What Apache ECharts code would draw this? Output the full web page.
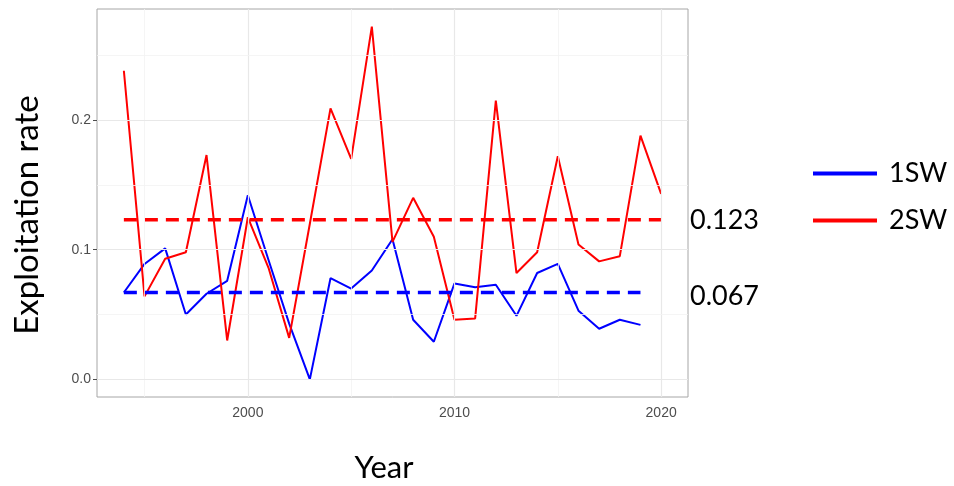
<!DOCTYPE html>
<html>
<head>
<meta charset="utf-8">
<script src="https://cdn.jsdelivr.net/npm/echarts@6/dist/echarts.min.js"></script>
<style>html,body{margin:0;padding:0;background:#fff;}#c{width:954px;height:486px;}</style>
</head>
<body>
<div id="c"></div>
<script>
// ---- data ----
const years1SW = [1994,1995,1996,1997,1998,1999,2000,2001,2002,2003,2004,2005,2006,2007,2008,2009,2010,2011,2012,2013,2014,2015,2016,2017,2018,2019];
const values1SW = [0.067,0.089,0.101,0.050,0.066,0.076,0.142,0.092,0.043,0.000,0.078,0.070,0.084,0.108,0.046,0.029,0.074,0.071,0.073,0.049,0.082,0.089,0.053,0.039,0.046,0.042];
const years2SW = [1994,1995,1996,1997,1998,1999,2000,2001,2002,2003,2004,2005,2006,2007,2008,2009,2010,2011,2012,2013,2014,2015,2016,2017,2018,2019,2020];
const values2SW = [0.238,0.064,0.093,0.098,0.173,0.030,0.125,0.086,0.032,0.120,0.209,0.170,0.272,0.106,0.140,0.110,0.046,0.047,0.215,0.082,0.098,0.172,0.104,0.091,0.095,0.188,0.143];
const mean1SW = 0.067;
const mean2SW = 0.123;
const xTicks = [2000, 2010, 2020];
const xMinorTicks = [1995, 2005, 2015];
const yTicks = [0.0, 0.1, 0.2];
const yMinorTicks = [0.05, 0.15, 0.25];
const xRange = [1992.7, 2021.3];
const yRange = [-0.0136, 0.2856];

const zip = (xs, ys) => xs.map((x, i) => [x, ys[i]]);

const chart = echarts.init(document.getElementById('c'));
const tickFont = { fontFamily: 'Liberation Sans, Arial, sans-serif', fontSize: 14, color: '#4d4d4d' };
const bigFont = 'Lato, "Open Sans", sans-serif';

const gridLines = [];
xTicks.forEach(v => gridLines.push({ xAxis: v, lineStyle: { color: '#e8e8e8', width: 1.2, type: 'solid' } }));
xMinorTicks.forEach(v => gridLines.push({ xAxis: v, lineStyle: { color: '#f2f2f2', width: 0.8, type: 'solid' } }));
yTicks.forEach(v => gridLines.push({ yAxis: v, lineStyle: { color: '#e8e8e8', width: 1.2, type: 'solid' } }));
yMinorTicks.forEach(v => gridLines.push({ yAxis: v, lineStyle: { color: '#f2f2f2', width: 0.8, type: 'solid' } }));

chart.setOption({
  animation: false,
  backgroundColor: '#fff',
  grid: { left: 97, top: 9, right: 266, bottom: 89, show: true, borderColor: '#a6a6a6', borderWidth: 1, backgroundColor: 'transparent' },
  xAxis: {
    type: 'value', min: xRange[0], max: xRange[1],
    axisLine: { show: false },
    splitLine: { show: false },
    axisTick: { show: true, customValues: xTicks, length: 4, lineStyle: { color: '#4d4d4d' } },
    axisLabel: { customValues: xTicks, margin: 9, formatter: v => String(v), ...tickFont }
  },
  yAxis: {
    type: 'value', min: yRange[0], max: yRange[1],
    axisLine: { show: false },
    splitLine: { show: false },
    axisTick: { show: true, customValues: yTicks, length: 4, lineStyle: { color: '#4d4d4d' } },
    axisLabel: { customValues: yTicks, margin: 6, formatter: v => v.toFixed(1), ...tickFont }
  },
  legend: {
    orient: 'vertical', left: 808, top: 155, itemGap: 20,
    itemWidth: 64, itemHeight: 4, icon: 'rect',
    data: ['1SW', '2SW'],
    textStyle: { fontFamily: bigFont, fontSize: 27, color: '#000', padding: [0, 0, 0, 7] }
  },
  graphic: [
    { type: 'text', x: 27, y: 215, rotation: Math.PI / 2, style: { text: 'Exploitation rate', font: '33px ' + bigFont, fill: '#000', textAlign: 'center', textVerticalAlign: 'middle' } },
    { type: 'text', x: 384, y: 468, style: { text: 'Year', font: '31px ' + bigFont, fill: '#000', textAlign: 'center', textVerticalAlign: 'middle' } }
  ],
  series: [
    { type: 'line', name: '_grid', data: [], silent: true, z: 0,
      markLine: { silent: true, symbol: 'none', label: { show: false }, animation: false, data: gridLines } },
    { type: 'line', name: '1SW', data: zip(years1SW, values1SW), showSymbol: false, symbol: 'none',
      lineStyle: { color: '#0000ff', width: 2 }, itemStyle: { color: '#0000ff' }, z: 3 },
    { type: 'line', name: '2SW', data: zip(years2SW, values2SW), showSymbol: false, symbol: 'none',
      lineStyle: { color: '#ff0000', width: 2 }, itemStyle: { color: '#ff0000' }, z: 3 },
    { type: 'line', name: 'mean1SW', data: [[years1SW[0], mean1SW], [years1SW[years1SW.length - 1], mean1SW]], symbol: 'none',
      lineStyle: { color: '#0000ff', width: 3.5, type: [13, 8] }, z: 4 },
    { type: 'line', name: 'mean2SW', data: [[years2SW[0], mean2SW], [years2SW[years2SW.length - 1], mean2SW]], symbol: 'none',
      lineStyle: { color: '#ff0000', width: 3.5, type: [13, 8] }, z: 4 },
    { type: 'scatter', name: 'meanLabels', symbolSize: 0.01, clip: false, silent: true,
      data: [
        { value: [xRange[1], mean2SW] },
        { value: [xRange[1], mean1SW], label: { offset: [0, 4] } }
      ],
      itemStyle: { color: '#000', opacity: 0 },
      label: { show: true, position: 'right', distance: 2, formatter: p => p.value[1].toFixed(3),
        fontFamily: bigFont, fontSize: 27, color: '#000', opacity: 1 } }
  ]
});
</script>
</body>
</html>
